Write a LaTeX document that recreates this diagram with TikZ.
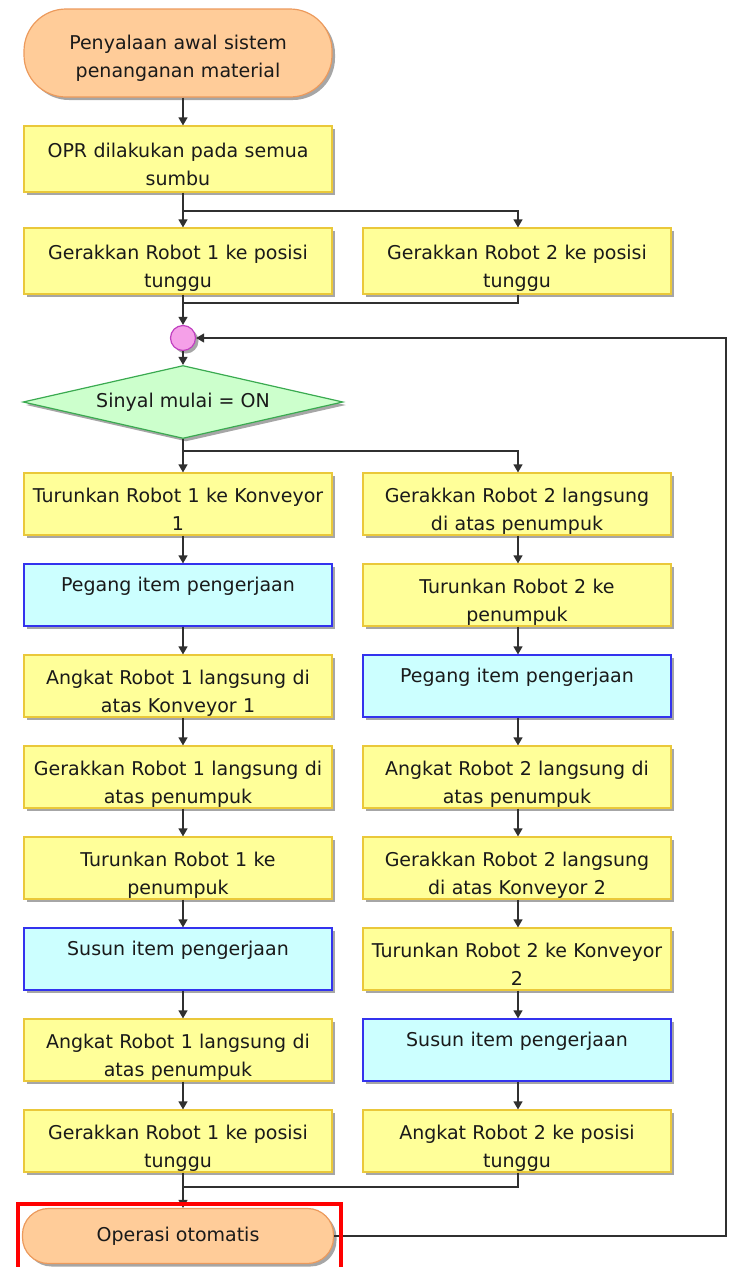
\documentclass[tikz,border=0pt]{standalone}
\usepackage{fontspec}
\setmainfont{DejaVu Sans}
\usetikzlibrary{shapes.geometric,shadows,arrows.meta}
\definecolor{yfill}{HTML}{FFFF99}
\definecolor{ydraw}{HTML}{EAC83A}
\definecolor{bfill}{HTML}{CCFFFF}
\definecolor{bdraw}{HTML}{3333EE}
\definecolor{tfill}{HTML}{FFCC99}
\definecolor{tdraw}{HTML}{EC9A5C}
\definecolor{dfill}{HTML}{CCFFCC}
\definecolor{ddraw}{HTML}{3AAA50}
\definecolor{jfill}{HTML}{F5A0E8}
\definecolor{jdraw}{HTML}{C040C0}
\definecolor{txt}{HTML}{1A1A1A}
\definecolor{lncol}{HTML}{303030}
\begin{document}
\begin{tikzpicture}[x=1pt,y=-1pt,
  every node/.style={font=\fontsize{19}{28}\selectfont, text=txt},
  shad/.style={drop shadow={shadow xshift=3pt,shadow yshift=-3pt,opacity=0.35,fill=black}},
  box/.style={rectangle, draw=ydraw, fill=yfill, line width=1.2pt, minimum width=308pt,
    minimum height=62pt, inner sep=0pt, text width=304pt, align=center,
    text height=22pt, text depth=25pt, shad},
  bluebox/.style={box, draw=bdraw, fill=bfill, text height=10pt, text depth=17pt},
  term/.style={rectangle, draw=tdraw, fill=tfill, line width=1.2pt, minimum width=308pt,
    inner sep=0pt, align=center, shad},
  dec/.style={diamond, draw=ddraw, fill=dfill, line width=1.2pt, aspect=4.4,
    minimum width=320pt, minimum height=73pt, inner sep=0pt, shad},
  junc/.style={circle, draw=jdraw, fill=jfill, line width=1.2pt, minimum size=25pt, inner sep=0pt, shad},
  ln/.style={draw=lncol, line width=1.3pt},
  arr/.style={ln, -{Triangle[length=8pt,width=9pt]}}
]
\useasboundingbox (0,0) rectangle (733,1267);
\clip (0,0) rectangle (733,1267);

\node[term, minimum height=88pt, rounded corners=42pt, text width=304pt, text height=20pt, text depth=28pt] (start) at (178,53) {Penyalaan awal sistem\\penanganan material};
\node[box, minimum height=66pt] (opr) at (178,159) {OPR dilakukan pada semua\\sumbu};
\node[box, minimum height=66pt] (r1w) at (178,261) {Gerakkan Robot 1 ke posisi\\tunggu};
\node[box, minimum height=66pt] (r2w) at (517,261) {Gerakkan Robot 2 ke posisi\\tunggu};
\node[junc] (junc) at (183,338) {};
\node[dec] (dec) at (183,402) {Sinyal mulai = ON};

\node[box] (a1) at (178,504) {Turunkan Robot 1 ke Konveyor\\1};
\node[bluebox] (a2) at (178,595) {Pegang item pengerjaan};
\node[box] (a3) at (178,686) {Angkat Robot 1 langsung di\\atas Konveyor 1};
\node[box] (a4) at (178,777) {Gerakkan Robot 1 langsung di\\atas penumpuk};
\node[box] (a5) at (178,868) {Turunkan Robot 1 ke\\penumpuk};
\node[bluebox] (a6) at (178,959) {Susun item pengerjaan};
\node[box] (a7) at (178,1050) {Angkat Robot 1 langsung di\\atas penumpuk};
\node[box] (a8) at (178,1141) {Gerakkan Robot 1 ke posisi\\tunggu};

\node[box] (b1) at (517,504) {Gerakkan Robot 2 langsung\\di atas penumpuk};
\node[box] (b2) at (517,595) {Turunkan Robot 2 ke\\penumpuk};
\node[bluebox] (b3) at (517,686) {Pegang item pengerjaan};
\node[box] (b4) at (517,777) {Angkat Robot 2 langsung di\\atas penumpuk};
\node[box] (b5) at (517,868) {Gerakkan Robot 2 langsung\\di atas Konveyor 2};
\node[box] (b6) at (517,959) {Turunkan Robot 2 ke Konveyor\\2};
\node[bluebox] (b7) at (517,1050) {Susun item pengerjaan};
\node[box] (b8) at (517,1141) {Angkat Robot 2 ke posisi\\tunggu};

\node[term, minimum width=311pt, minimum height=55pt, rounded corners=26pt] (fin) at (178,1236) {Operasi otomatis};

\coordinate (L) at (183,0);
\coordinate (R) at (518,0);
\coordinate (s1) at (183,211);
\coordinate (m1) at (183,303);
\coordinate (s2) at (183,451);
\coordinate (m2) at (183,1187);
\coordinate (fb) at (726,0);

\draw[arr] (start.south -| L) -- (opr.north -| L);
\draw[arr] (opr.south -| L) -- (r1w.north -| L);
\draw[arr] (s1) -| (r2w.north -| R);
\draw[arr] (r1w.south -| L) -- (junc.north);
\draw[ln] (r2w.south -| R) |- (m1);
\draw[arr] (junc.south) -- (dec.north);
\draw[arr] (dec.south) -- (a1.north -| L);
\draw[arr] (s2) -| (b1.north -| R);
\foreach \i/\j in {1/2,2/3,3/4,4/5,5/6,6/7,7/8}{
  \draw[arr] (a\i.south -| L) -- (a\j.north -| L);
  \draw[arr] (b\i.south -| R) -- (b\j.north -| R);
}
\draw[arr] (a8.south -| L) -- (fin.north -| L);
\draw[ln] (b8.south -| R) |- (m2);
\draw[arr] (fin.east) -- (fin.east -| fb) |- (junc.east);

\draw[red, line width=4pt] (18,1204) rectangle (341,1280);
\end{tikzpicture}
\end{document}
